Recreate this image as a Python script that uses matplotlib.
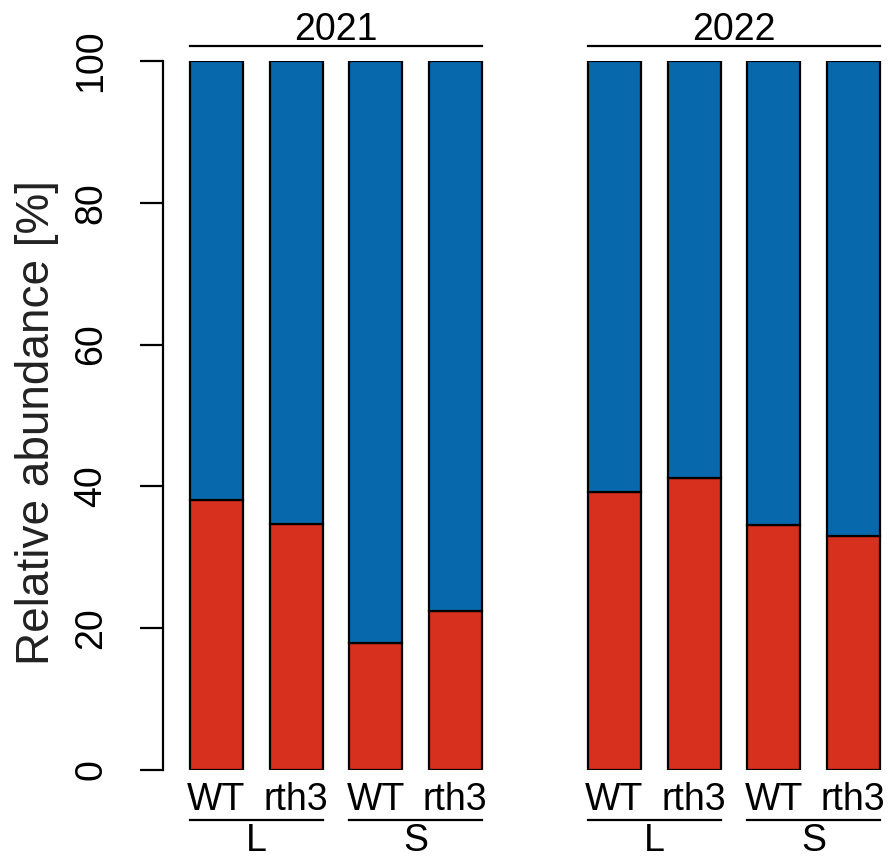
import matplotlib
matplotlib.use("Agg")
import matplotlib.pyplot as plt
from matplotlib.lines import Line2D

plt.rcParams["font.family"] = ["Liberation Sans", "DejaVu Sans"]

# Data: relative abundance (%) of the lower (red) fraction; upper (blue) is the remainder
years = ["2021", "2022"]
genotypes = ["WT", "rth3", "WT", "rth3"]
tissues = ["L", "S"]
red_2021 = [38.1, 34.7, 17.9, 22.4]
red_2022 = [39.2, 41.2, 34.6, 33.0]
yticks = [0, 20, 40, 60, 80, 100]

red_color = "#D7301F"
blue_color = "#0868AC"

W, H, DPI = 889, 858, 100
fig = plt.figure(figsize=(W / DPI, H / DPI), dpi=DPI)

# plot region in pixel terms
left_px, right_px, top_px, bottom_px = 163, 889, 61, 770
ax = fig.add_axes([left_px / W, 1 - bottom_px / H,
                   (right_px - left_px) / W, (bottom_px - top_px) / H])

pitch_px = 79.6
first_center_px = 216.5
bar_w = 0.667
positions = [0, 1, 2, 3, 5, 6, 7, 8]
red_vals = red_2021 + red_2022
blue_vals = [100 - v for v in red_vals]

ax.bar(positions, red_vals, width=bar_w, color=red_color,
       edgecolor="black", linewidth=1.6)
ax.bar(positions, blue_vals, bottom=red_vals, width=bar_w, color=blue_color,
       edgecolor="black", linewidth=1.6)

ax.set_xlim((left_px - first_center_px) / pitch_px,
            (right_px - first_center_px) / pitch_px)
ax.set_ylim(0, 100)

for s in ["top", "right", "bottom"]:
    ax.spines[s].set_visible(False)
ax.spines["left"].set_linewidth(1.6)
ax.set_xticks([])
ax.set_yticks(yticks)
ax.set_yticklabels([str(t) for t in yticks], rotation=90, va="center",
                   fontsize=27)
ax.tick_params(axis="y", length=16.5, width=1.6, pad=22)

fig.text(37 / W, 1 - 423 / H, "Relative abundance [%]", rotation=90,
         ha="center", va="center", fontsize=33, color="#222222")

px_per_unit = (bottom_px - top_px) / 100.0


def y_of(px):
    return (bottom_px - px) / px_per_unit


half = bar_w / 2
fs = 27

# genotype labels under each bar
for p, g in zip(positions, genotypes * 2):
    ax.text(p, y_of(810), g, ha="center", va="baseline", fontsize=fs,
            clip_on=False)

# tissue underlines and labels
groups = [(0, 1), (2, 3), (5, 6), (7, 8)]
for (a, b), t in zip(groups, tissues * 2):
    ax.add_line(Line2D([a - half, b + half], [y_of(820), y_of(820)],
                       color="black", linewidth=1.6, clip_on=False))
    ax.text((a + b) / 2, y_of(851), t, ha="center", va="baseline",
            fontsize=fs, clip_on=False)

# year overlines and labels
for (a, b), yr in zip([(0, 3), (5, 8)], years):
    ax.add_line(Line2D([a - half, b + half], [y_of(46), y_of(46)],
                       color="black", linewidth=1.6, clip_on=False))
    ax.text((a + b) / 2, y_of(40), yr, ha="center", va="baseline",
            fontsize=fs, clip_on=False)

fig.savefig("out.png", dpi=DPI)
